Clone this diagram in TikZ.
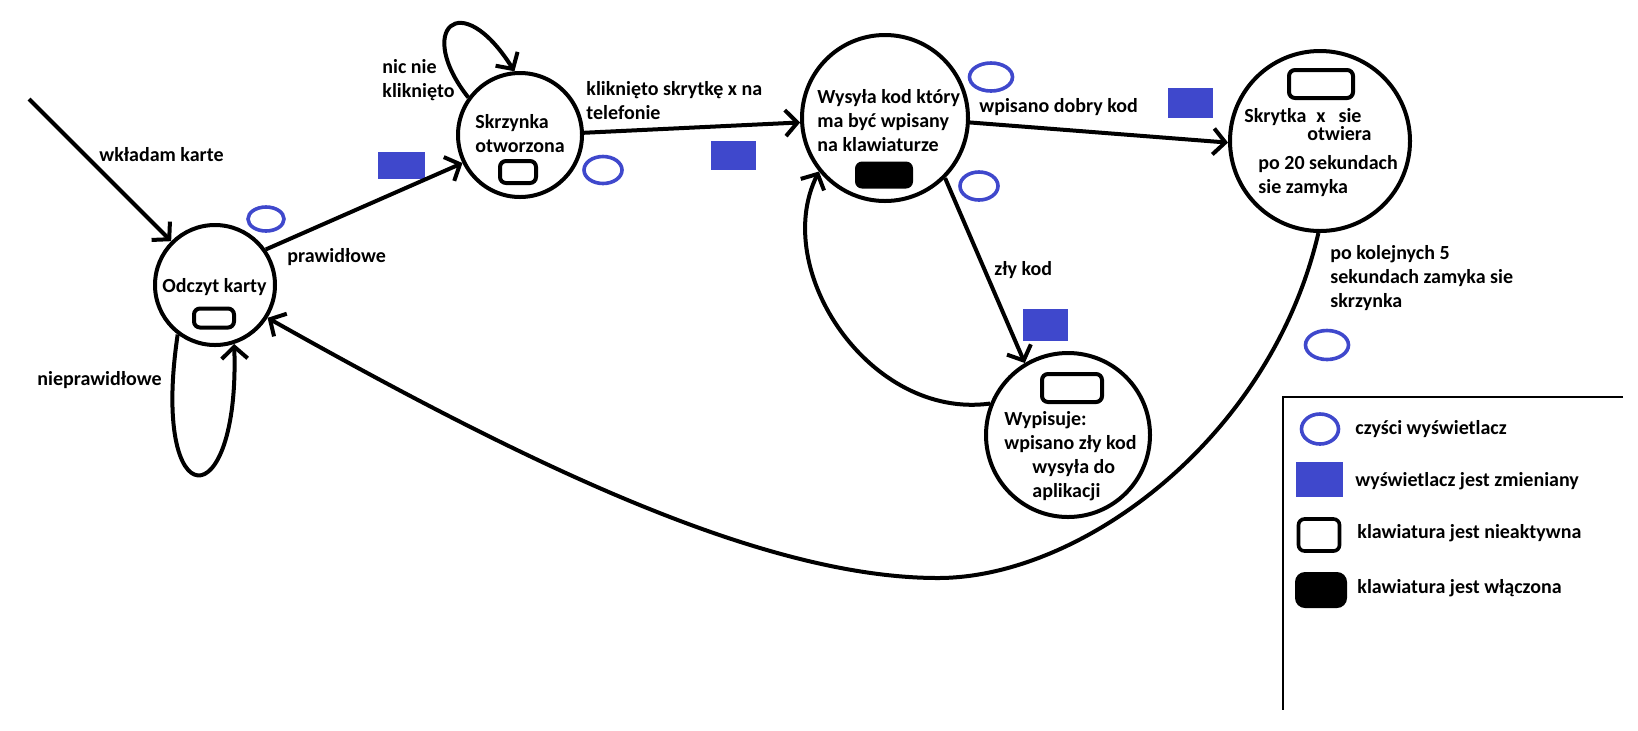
\documentclass[tikz,border=0pt]{standalone}
\usepackage{fontspec}
\setmainfont{Carlito}
\usetikzlibrary{arrows.meta,shapes.geometric}
\definecolor{paintblue}{RGB}{63,72,204}
\begin{document}
\begin{tikzpicture}[x=0.5pt,y=-0.5pt,
  state/.style={circle,draw,line width=2pt,inner sep=0pt},
  txt/.style={font=\bfseries,align=left,inner sep=0pt,anchor=west},
  kbd/.style={draw,line width=2pt,rounded corners=3pt,inner sep=0pt},
  kbdon/.style={fill=black,rounded corners=3.5pt,inner sep=0pt},
  clr/.style={ellipse,draw=paintblue,line width=1.8pt,inner sep=0pt},
  chg/.style={fill=paintblue,inner sep=0pt},
  edge/.style={-{Straight Barb[length=6pt,width=13pt]},line width=2pt}]
\useasboundingbox (0,0) rectangle (1638,730);

% States
\node[state,minimum size=60pt] (odczyt) at (215,285) {};
\node[state,minimum size=62pt] (skrz) at (520,135) {};
\node[state,minimum size=83pt] (wysyla) at (885,118) {};
\node[state,minimum size=82pt] (wypis) at (1068,435) {};
\node[state,minimum size=90pt] (skrytka) at (1320,141) {};

% Texts inside the states
\node[txt] (odczyttxt) at (162,287) {Odczyt karty};
\node[txt] (skrztxt) at (475,134) {Skrzynka\\otworzona};
\node[txt] (wysylatxt) at (817,121) {Wysyła kod który\\ma być wpisany\\na klawiaturze};
\node[txt] (wypistxt) at (1004,456) {Wypisuje:\\wpisano zły kod\\\hspace*{14pt}wysyła do\\\hspace*{14pt}aplikacji};
\node[txt] (skrytkatxt) at (1244,117) {Skrytka\hspace{5pt}x\hspace{6.5pt}sie};
\node[txt] (otwieratxt) at (1307,134) {otwiera};
\node[txt] (po20txt) at (1258,176) {po 20 sekundach\\sie zamyka};

% Keyboards
\node[kbd,minimum width=20pt,minimum height=9.5pt] (odczytkbd) at (214,318) {};
\node[kbd,minimum width=18pt,minimum height=11pt] (skrzkbd) at (518,172) {};
\node[kbdon,minimum width=29pt,minimum height=13.5pt] (wysylakbd) at (884,175) {};
\node[kbd,minimum width=30pt,minimum height=14pt] (wypiskbd) at (1072,388) {};
\node[kbd,minimum width=32pt,minimum height=14pt] (skrytkakbd) at (1321,84) {};

% Display markers
\node[clr,minimum width=18pt,minimum height=12pt] (clr1) at (266,219) {};
\node[clr,minimum width=19pt,minimum height=13.5pt] (clr2) at (603,170) {};
\node[clr,minimum width=21.5pt,minimum height=14pt] (clr3) at (991,77) {};
\node[clr,minimum width=19pt,minimum height=14pt] (clr4) at (979,186) {};
\node[clr,minimum width=21.5pt,minimum height=14.5pt] (clr5) at (1327,345) {};
\node[chg,minimum width=23.5pt,minimum height=13.5pt] (chg1) at (401,165) {};
\node[chg,minimum width=22.5pt,minimum height=14.5pt] (chg2) at (733,155) {};
\node[chg,minimum width=22.5pt,minimum height=15pt] (chg3) at (1190,103) {};
\node[chg,minimum width=22.5pt,minimum height=16pt] (chg4) at (1045,325) {};

% Transitions
\coordinate (start) at (29,99);
\draw[edge] (start) -- (odczyt);
\node[txt] (wkladam) at (99,155) {wkładam karte};

\draw[edge] (odczyt.35) -- (skrz.206);
\node[txt] (prawidlowe) at (287,257) {prawidłowe};

\draw[edge] (odczyt.233) .. controls (150,520) and (240,520) .. (odczyt.288);
\node[txt] (nieprawidlowe) at (37,380) {nieprawidłowe};

\draw[edge] (skrz.144) .. controls (415,30) and (460,-15) .. (skrz.95);
\node[txt] (nicnie) at (382,80) {nic nie\\kliknięto};

\draw[edge] (skrz.2) -- (wysyla.183);
\node[txt] (kliknieto) at (586,101) {kliknięto skrytkę x na\\telefonie};

\draw[edge] (wysyla.357) -- (skrytka.181);
\node[txt] (dobry) at (979,107) {wpisano dobry kod};

\draw[edge] (wysyla.315) -- (wypis.121);
\node[txt] (zly) at (994,270) {zły kod};

\draw[edge] (wypis.158) .. controls (870,420) and (770,270) .. (wysyla.219);

\coordinate (dol) at (938,578);
\draw[edge] (skrytka.269) .. controls (1270,440) and (1080,578) .. (dol)
  .. controls (760,578) and (520,460) .. (odczyt.328);
\node[txt] (kolejnych) at (1330,278) {po kolejnych 5\\sekundach zamyka sie\\skrzynka};

% Legend
\coordinate (legtl) at (1283,397);
\coordinate (legtr) at (1623,397);
\coordinate (legbl) at (1283,710);
\draw[line width=0.8pt] (legtr) -- (legtl) -- (legbl);
\node[clr,minimum width=18.5pt,minimum height=15pt] (legclr) at (1320,429) {};
\node[txt] (legclrtxt) at (1355,429) {czyści wyświetlacz};
\node[chg,minimum width=23.5pt,minimum height=17.5pt] (legchg) at (1319,479) {};
\node[txt] (legchgtxt) at (1355,481) {wyświetlacz jest zmieniany};
\node[kbd,line width=1.8pt,minimum width=20.5pt,minimum height=16pt] (legkbd) at (1319,535) {};
\node[txt] (legkbdtxt) at (1357,533) {klawiatura jest nieaktywna};
\node[kbdon,rounded corners=5pt,minimum width=26pt,minimum height=18pt] (legkbdon) at (1321,590) {};
\node[txt] (legkbdontxt) at (1357,588) {klawiatura jest włączona};

\end{tikzpicture}
\end{document}
